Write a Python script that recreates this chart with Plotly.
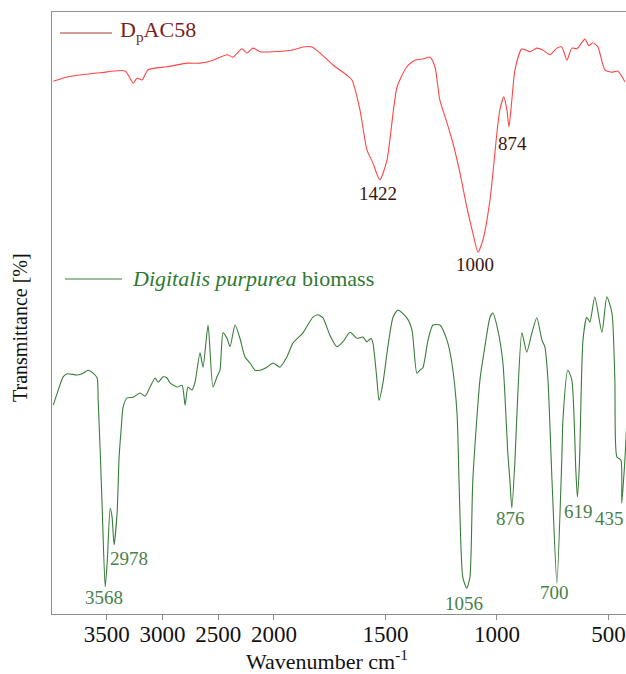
import plotly.graph_objects as go

# ---------------- data (wavenumber cm-1, transmittance in arbitrary offset units) ----------------
red_wn = [3980, 3855, 3559, 3335, 3263, 3228, 3183, 3129, 2959, 2780, 2663, 2547, 2484, 2421, 2367,
          2287, 2242, 2188, 2125, 2009, 1915, 1870, 1830, 1794, 1735, 1673, 1650, 1614, 1583, 1556,
          1525, 1493, 1448, 1404, 1368, 1332, 1300, 1278, 1256, 1224, 1197, 1166, 1135, 1108, 1085,
          1063, 1031, 1000, 987, 969, 955, 946, 933, 919, 888, 852, 821, 794, 762, 731, 709, 686,
          664, 641, 605, 588, 570, 547, 516, 484, 458, 426]
red_t = [88.5, 89.2, 89.9, 90.2, 88.2, 89.0, 88.7, 90.4, 90.9, 91.5, 91.5, 92.0, 92.5, 92.9, 92.5,
         93.9, 93.2, 94.0, 93.4, 93.4, 93.7, 94.2, 94.2, 93.2, 91.2, 89.5, 88.7, 83.7, 77.1, 74.9,
         72.1, 75.4, 87.5, 90.9, 92.0, 92.2, 92.5, 90.9, 85.4, 81.6, 78.2, 73.3, 67.6, 63.3, 60.1,
         62.1, 68.8, 79.9, 83.7, 85.9, 83.7, 80.9, 85.4, 90.4, 93.9, 93.4, 94.0, 93.7, 92.9, 94.0,
         94.2, 92.0, 94.0, 93.9, 95.5, 94.4, 94.9, 94.2, 90.4, 90.0, 90.2, 88.4]

green_wn = [3980, 3944, 3891, 3855, 3765, 3711, 3667, 3622, 3586, 3577, 3559, 3541, 3514, 3496, 3469,
            3452, 3434, 3407, 3389, 3371, 3353, 3317, 3263, 3201, 3156, 3111, 3066, 3039, 2995, 2959,
            2932, 2869, 2824, 2797, 2771, 2735, 2708, 2663, 2636, 2591, 2547, 2511, 2484, 2457, 2421,
            2394, 2349, 2305, 2260, 2215, 2170, 2125, 2063, 2009, 1973, 1942, 1915, 1870, 1825, 1803,
            1780, 1749, 1718, 1691, 1659, 1628, 1601, 1583, 1565, 1556, 1538, 1529, 1511, 1489, 1466,
            1444, 1404, 1381, 1359, 1345, 1332, 1309, 1287, 1256, 1224, 1202, 1179, 1170, 1153, 1135,
            1121, 1108, 1076, 1054, 1031, 1018, 996, 973, 951, 942, 933, 919, 910, 888, 866, 843,
            821, 798, 785, 771, 753, 731, 709, 704, 682, 664, 646, 639, 630, 614, 597, 583, 561,
            529, 507, 484, 471, 462, 444, 440, 426, 417]
green_t = [34.7, 36.7, 39.4, 39.9, 39.7, 40.0, 40.5, 40.0, 39.2, 35.5, 27.2, 17.8, 4.5, 8.5, 17.6,
           16.1, 11.5, 16.8, 26.1, 30.6, 34.4, 35.9, 36.0, 36.7, 36.2, 37.7, 39.2, 38.5, 39.4, 39.2,
           38.4, 37.7, 38.0, 34.7, 37.7, 37.2, 38.5, 43.4, 41.0, 48.0, 37.7, 39.4, 40.5, 46.7, 45.8,
           44.4, 48.0, 45.8, 42.7, 41.7, 40.5, 40.5, 41.0, 41.7, 41.0, 42.7, 45.0, 46.7, 49.3, 49.7,
           49.2, 46.3, 44.4, 45.2, 46.8, 45.8, 46.0, 45.2, 45.8, 45.0, 38.9, 35.5, 38.4, 44.4, 49.3,
           50.5, 49.2, 47.2, 40.0, 40.5, 40.9, 45.5, 48.0, 48.0, 45.5, 41.7, 33.4, 22.3, 6.1, 4.3,
           6.1, 22.3, 38.9, 44.4, 49.3, 50.0, 47.2, 41.7, 26.7, 22.3, 17.6, 25.6, 33.4, 46.7, 43.5, 46.7,
           49.2, 45.5, 44.4, 38.9, 22.3, 5.1, 25.6, 32.2, 40.5, 38.9, 23.9, 19.4, 24.8, 45.5, 49.3, 48.5, 52.7,
           46.8, 52.7, 50.0, 38.9, 26.1, 25.6, 18.4, 25.6, 32.2]

red_labels = ["1422", "1000", "874"]
red_label_wn = [1534, 1099, 928]
red_label_t = [69.9, 58.0, 78.1]

green_labels = ["3568", "2978", "1056", "876", "700", "619", "435"]
green_label_wn = [3523, 3299, 1148, 937, 740, 632, 494]
green_label_t = [2.7, 9.3, 1.8, 15.9, 3.5, 17.1, 15.9]

tick_labels = ["3500", "3000", "2500", "2000", "1500", "1000", "500"]
tick_wn = [3500, 3000, 2500, 2000, 1500, 1000, 500]

# ---------------- axis scale: instrument-style half-scale above 2000 cm-1 ----------------
def xs(w):
    return w if w <= 2000 else 2000 + (w - 2000) / 2.0

def xs_list(ws):
    return [xs(w) for w in ws]

FONT = "Liberation Serif, Times New Roman, serif"
RED = "#ff4545"
GREEN = "#3a7d3a"

W, H = 626, 674
L, R, T, B = 52, 0, 12, 60
pw, ph = W - L - R, H - T - B

def px_x(px):
    return (px - L) / pw

def px_y(py):
    return (H - B - py) / ph

fig = go.Figure()
fig.add_trace(go.Scatter(x=xs_list(red_wn), y=red_t, mode="lines", name="DpAC58",
                         line=dict(color=RED, width=1.1, shape="spline", smoothing=0.6),
                         showlegend=False))
fig.add_trace(go.Scatter(x=xs_list(green_wn), y=green_t, mode="lines", name="Digitalis purpurea biomass",
                         line=dict(color=GREEN, width=1.1, shape="spline", smoothing=0.6),
                         showlegend=False))

annotations = []
for txt, w, t in zip(red_labels, red_label_wn, red_label_t):
    annotations.append(dict(x=xs(w), y=t, xref="x", yref="y", text=txt, showarrow=False,
                            font=dict(family=FONT, size=19, color="#3a1414")))
for txt, w, t in zip(green_labels, green_label_wn, green_label_t):
    annotations.append(dict(x=xs(w), y=t, xref="x", yref="y", text=txt, showarrow=False,
                            font=dict(family=FONT, size=19, color="#4a804a")))

# legend entries (line sample + text)
annotations.append(dict(x=px_x(118), y=px_y(31), xref="paper", yref="paper", text="D<sub>p</sub>AC58",
                        showarrow=False, xanchor="left", yanchor="middle",
                        font=dict(family=FONT, size=22, color="#7a1e1e")))
annotations.append(dict(x=px_x(130), y=px_y(278), xref="paper", yref="paper",
                        text="<i>Digitalis purpurea</i> biomass",
                        showarrow=False, xanchor="left", yanchor="middle",
                        font=dict(family=FONT, size=22, color="#2f7a2f")))
# axis titles
annotations.append(dict(x=px_x(327), y=px_y(660), xref="paper", yref="paper",
                        text="Wavenumber cm<sup>-1</sup>", showarrow=False,
                        xanchor="center", yanchor="middle",
                        font=dict(family=FONT, size=22, color="#111")))
annotations.append(dict(x=px_x(20), y=px_y(328), xref="paper", yref="paper",
                        text="Transmittance [%]", showarrow=False, textangle=-90,
                        xanchor="center", yanchor="middle",
                        font=dict(family=FONT, size=20, color="#111")))

shapes = [
    dict(type="line", xref="paper", yref="paper", x0=px_x(60), x1=px_x(112),
         y0=px_y(33), y1=px_y(33), line=dict(color="#a43a3a", width=1.2)),
    dict(type="line", xref="paper", yref="paper", x0=px_x(65), x1=px_x(122),
         y0=px_y(279), y1=px_y(279), line=dict(color="#3a7d3a", width=1.2)),
]

fig.update_layout(
    width=W, height=H,
    margin=dict(l=L, r=R, t=T, b=B),
    paper_bgcolor="white", plot_bgcolor="white",
    annotations=annotations, shapes=shapes,
    showlegend=False,
    xaxis=dict(range=[xs(3991), xs(421)], tickvals=xs_list(tick_wn), ticktext=tick_labels,
               showgrid=False, zeroline=False, showline=True, linecolor="#8c8c8c", linewidth=1.3,
               mirror=True, ticks="outside", ticklen=5, tickcolor="#8c8c8c", tickwidth=1,
               ticklabelstandoff=-6,
               tickfont=dict(family=FONT, size=23, color="#111")),
    yaxis=dict(range=[0, 100], showticklabels=False, showgrid=False, zeroline=False,
               showline=True, linecolor="#8c8c8c", linewidth=1.3, ticks=""),
)

fig.write_html("out.html")
